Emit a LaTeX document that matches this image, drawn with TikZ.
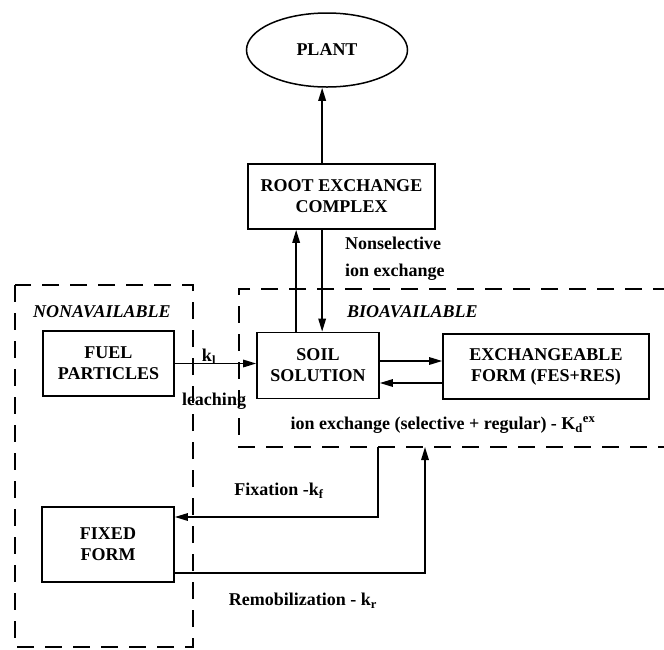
\documentclass[tikz,border=0pt]{standalone}
\usepackage{fontspec}
\setmainfont{Liberation Serif}
\usetikzlibrary{shapes.geometric,arrows.meta}
\begin{document}
\begin{tikzpicture}[x=1pt,y=-1pt,
  every node/.style={font=\fontsize{18}{21}\selectfont\bfseries},
  box/.style={draw,line width=1.7pt,align=center,inner sep=0pt},
  lab/.style={inner sep=0pt},
  arr/.style={line width=1.6pt,-{Triangle[length=13pt,width=7.5pt]}},
  dsh/.style={line width=1.6pt,dash pattern=on 17pt off 11pt}]
\useasboundingbox (0,0) rectangle (664,649);
% nodes
\node[draw,ellipse,line width=1.5pt,minimum width=161pt,minimum height=74pt,inner sep=0pt] (plant) at (327,50) {PLANT};
\node[box,minimum width=187pt,minimum height=65pt] (root) at (341.5,196.5) {ROOT EXCHANGE\\COMPLEX};
\node[box,minimum width=131pt,minimum height=65pt] (fuel) at (108.5,363.5) {FUEL\\PARTICLES};
\node[box,minimum width=122pt,minimum height=66pt] (soil) at (318,365.5) {SOIL\\SOLUTION};
\node[box,minimum width=206pt,minimum height=65pt] (exch) at (546,366.5) {EXCHANGEABLE\\FORM (FES+RES)};
\node[box,minimum width=132pt,minimum height=75pt] (fixed) at (108,544.5) {FIXED\\FORM};
% dashed regions
\draw[dsh] (15,285) rectangle (193,647);
\draw[dsh] (670,289) -- (239,289) -- (239,447) -- (670,447);
% labels
\node[lab,anchor=west,font=\fontsize{18}{21}\selectfont\bfseries\itshape] (nonav) at (33,312) {NONAVAILABLE};
\node[lab,anchor=west,font=\fontsize{18}{21}\selectfont\bfseries\itshape] (bioav) at (347,312) {BIOAVAILABLE};
\node[lab,anchor=west,align=left,font=\fontsize{18}{27}\selectfont\bfseries] (nonsel) at (345,259) {Nonselective\\ion exchange};
\node[lab] (kl) at (209,357) {k\textsubscript{l}};
\node[lab] (leach) at (214,401) {leaching};
\node[lab] (ionex) at (443,425) {ion exchange (selective + regular) - K\textsubscript{d}\textsuperscript{ex}};
\node[lab] (fixl) at (279,491) {Fixation -k\textsubscript{f}};
\node[lab] (reml) at (303,601) {Remobilization - k\textsubscript{r}};
% connectors
\draw[arr] (fuel.east) -- (fuel.east -| soil.west);
\draw[arr] ([yshift=4.5pt]soil.east) -- ([yshift=4.5pt]soil.east -| exch.west);
\draw[arr] ([yshift=-16.5pt]exch.west) -- ([yshift=-16.5pt]exch.west -| soil.east);
\draw[arr] ([xshift=40pt]soil.north west) -- ([xshift=40pt]soil.north west |- root.south);
\draw[arr] ([xshift=66pt]soil.north west |- root.south) -- ([xshift=66pt]soil.north west);
\draw[arr] ([xshift=66pt]soil.north west |- root.north) -- ([xshift=66pt]soil.north west |- plant.south);
\coordinate (fx) at (378,447);
\coordinate (rm) at (425,447);
\draw[arr] (fx) |- ([yshift=27.5pt]fixed.east);
\draw[arr] ([yshift=-28.5pt]fixed.east) -| (rm);
\end{tikzpicture}
\end{document}
